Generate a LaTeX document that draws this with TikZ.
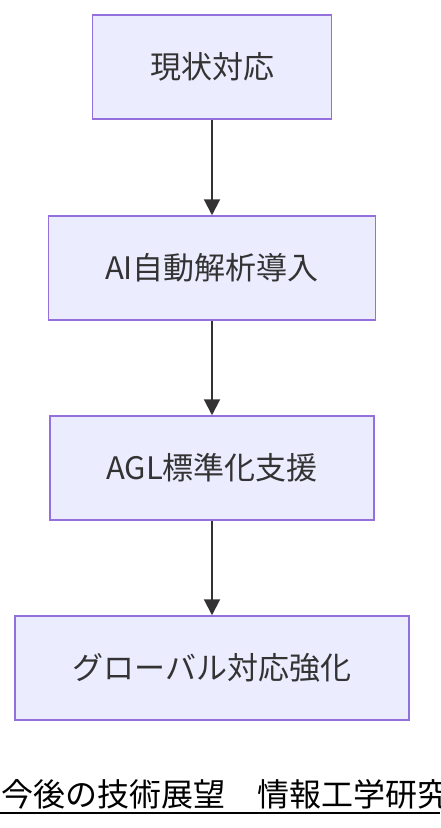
\documentclass[tikz,border=0pt]{standalone}
\usepackage{fontspec}
\setmainfont{Noto Sans CJK JP}
\usetikzlibrary{arrows.meta}
\definecolor{cajafondo}{HTML}{ECECFF}
\definecolor{cajaborde}{HTML}{9370DB}
\definecolor{texto}{HTML}{333333}
\begin{document}
\begin{tikzpicture}[x=1pt,y=-1pt]
% estilos de cajas y flechas
\tikzstyle{caja} = [draw=cajaborde,fill=cajafondo,line width=1.5pt,
  minimum height=104pt,inner sep=0pt,text=texto,font=\fontsize{31}{36}\selectfont]
\tikzstyle{flecha} = [draw=texto,line width=2pt,-{Triangle[width=16pt,length=16pt]}]
% marco de la figura
\useasboundingbox (0,0) rectangle (440,828);
% dibujar cajas
\node[caja,minimum width=239pt] (actual) at (212,67) {現状対応};
\node[caja,minimum width=327pt] (analisis) at (212,268) {AI自動解析導入};
\node[caja,minimum width=324pt] (norma) at (212,468) {AGL標準化支援};
\node[caja,minimum width=394pt] (global) at (212,668) {グローバル対応強化};
% dibujar flechas
\draw[flecha] (actual) -- (analisis);
\draw[flecha] (analisis) -- (norma);
\draw[flecha] (norma) -- (global);
% dibujar titulo
\node[anchor=base west,inner sep=0pt,font=\fontsize{32}{37}\selectfont] (titulo)
  at (1,806) {今後の技術展望　情報工学研究};
\draw[line width=2pt] (0,813) -- (440,813);
\end{tikzpicture}
\end{document}
